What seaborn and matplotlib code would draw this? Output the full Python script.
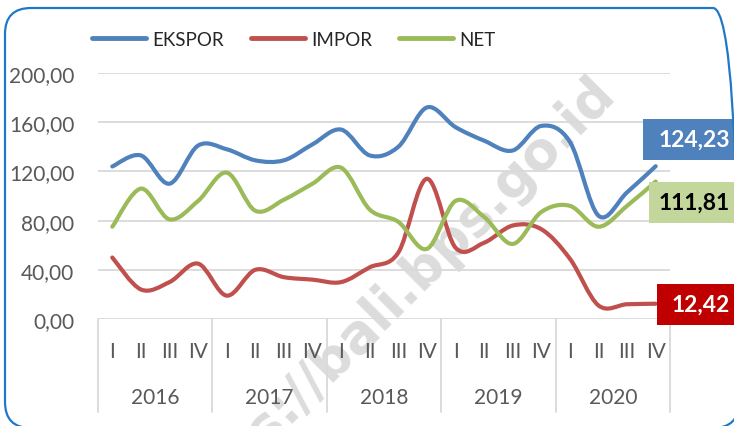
import numpy as np
import pandas as pd
import matplotlib
matplotlib.use("Agg")
import matplotlib.pyplot as plt
import seaborn as sns
from matplotlib.path import Path
from matplotlib.patches import PathPatch, Rectangle, FancyBboxPatch
from matplotlib.lines import Line2D
from matplotlib.transforms import IdentityTransform, blended_transform_factory

# Data
tahun = ["2016", "2017", "2018", "2019", "2020"]
triwulan = ["I", "II", "III", "IV"]
ekspor = [124, 133, 110, 141, 138, 129, 129, 142, 154, 133,
          140, 172, 156, 145, 137, 157, 144, 84, 103, 124.23]
impor = [50, 24, 30, 45, 19, 40, 34, 32, 30, 42,
         54, 114, 58, 62, 76, 73, 49, 11, 12, 12.42]
net = [75, 106, 81, 96, 119, 88, 97, 110, 123, 89,
       79, 57, 96, 83, 61, 87, 92, 75, 92, 111.81]
seri = ["EKSPOR", "IMPOR", "NET"]
warna = {"EKSPOR": "#4f81bd", "IMPOR": "#c0504d", "NET": "#9bbb59"}

n = len(ekspor)
df = pd.DataFrame({
    "pos": list(range(n)) * 3,
    "nilai": ekspor + impor + net,
    "seri": ["EKSPOR"] * n + ["IMPOR"] * n + ["NET"] * n,
})

sns.set_theme(style="white")
plt.rcParams['font.family'] = ['Lato', 'DejaVu Sans']

W, H = 734, 427
fig = plt.figure(figsize=(W / 100, H / 100), dpi=100)
ax = fig.add_axes([98 / W, 1 - 320 / H, 572 / W, 246 / H])
ax.patch.set_alpha(0)  # let the watermark show under the lines


def px(x, y):
    return (x / W, 1 - y / H)


def smooth_path(xy):
    # excel-style smoothed line: bezier segments through the data points
    pts = np.asarray(xy)
    verts = [pts[0]]
    codes = [Path.MOVETO]
    for i in range(len(pts) - 1):
        p0 = pts[max(i - 1, 0)]
        p1 = pts[i]
        p2 = pts[i + 1]
        p3 = pts[min(i + 2, len(pts) - 1)]
        verts += [p1 + (p2 - p0) / 6, p2 - (p3 - p1) / 6, p2]
        codes += [Path.CURVE4] * 3
    return Path(verts, codes)


sns.lineplot(data=df, x="pos", y="nilai", hue="seri", hue_order=seri,
             palette=warna, linewidth=3, legend=False, ax=ax)
for line, s in zip(ax.lines, seri):
    xy = line.get_xydata()
    line.set_visible(False)
    ax.add_patch(PathPatch(smooth_path(xy), fill=False, edgecolor=warna[s],
                           lw=3, capstyle='round', joinstyle='round', zorder=3))

# axes
ax.set_xlim(-0.5, n - 0.5)
ax.set_ylim(0, 200)
ax.set_yticks(np.arange(0, 201, 40))
ax.set_yticklabels([f"{v:.2f}".replace(".", ",") for v in np.arange(0, 201, 40)],
                   fontsize=15, color="#595959")
ax.tick_params(axis="y", length=0, pad=17)
ax.set_xticks([])
ax.set_xlabel("")
ax.set_ylabel("")
ax.grid(axis="y", color="#d9d9d9", lw=1.3)
ax.grid(axis="x", visible=False)
for sp in ax.spines.values():
    sp.set_visible(False)
ax.set_axisbelow(True)

# category axis: quarters + years
trans = blended_transform_factory(ax.transData, ax.transAxes)
for i in range(n):
    ax.text(i, -0.130, triwulan[i % 4], transform=trans, ha="center", va="center",
            fontsize=15, color="#595959")
for j, t in enumerate(tahun):
    ax.text(j * 4 + 1.5, -0.317, t, transform=trans, ha="center", va="center",
            fontsize=15, color="#595959")
for b in np.arange(-0.5, n, 4):
    ax.add_line(Line2D([b, b], [0, -0.378], transform=trans, color="#d9d9d9",
                       lw=1.3, clip_on=False))

# legend
handles = [Line2D([], [], color=warna[s], lw=3.5, solid_capstyle='round') for s in seri]
fig.legend(handles, seri, loc="center left", bbox_to_anchor=px(92, 40), ncol=3,
           frameon=False, fontsize=13.5, handlelength=2.9, handletextpad=0.3,
           columnspacing=1.45, borderpad=0, borderaxespad=0)

# end labels
label_box = [
    (ekspor[-1], "#4f81bd", "white", 643, 120, 161),
    (net[-1], "#c3d69b", "black", 649, 183, 224),
    (impor[-1], "#c00000", "white", 657, 285, 326),
]
for val, bg, fg, x0, y0, y1 in label_box:
    fig.patches.append(Rectangle(px(x0, y1), (W + 5 - x0) / W, (y1 - y0) / H,
                                 transform=fig.transFigure, facecolor=bg,
                                 edgecolor="none", zorder=5))
    fig.text(730 / W, 1 - (y0 + y1) / 2 / H, f"{val:.2f}".replace(".", ","),
             ha="right", va="center", fontsize=16.5, fontweight="bold",
             color=fg, zorder=6)

# watermark, under the plot lines
fig.text(*px(606, 84), "https://bali.bps.go.id", rotation=45, rotation_mode="anchor",
         ha="right", va="center", fontsize=38, fontweight="bold",
         family="DejaVu Sans", color="#dcdcdc", zorder=-1)

# rounded frame
fig.patches.append(FancyBboxPatch((5, -2), 734, 420,
                                  boxstyle="round,pad=0,rounding_size=26",
                                  transform=IdentityTransform(), fill=False,
                                  edgecolor="#1f78c8", lw=1.6, zorder=7))

fig.savefig("out.png", dpi=100)
